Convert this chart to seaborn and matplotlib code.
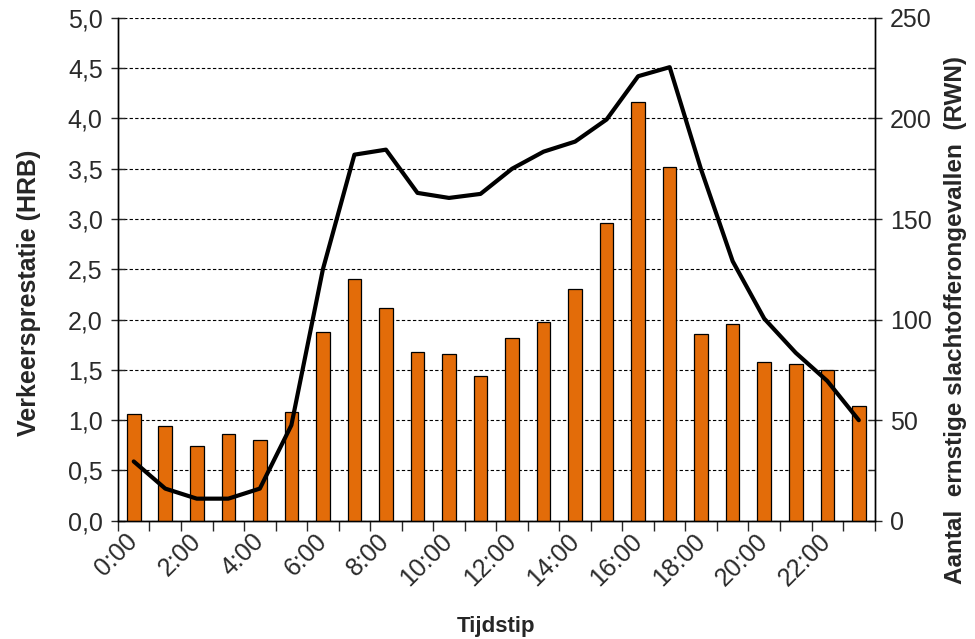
import numpy as np
import pandas as pd
import matplotlib.pyplot as plt
import seaborn as sns
from matplotlib.ticker import MultipleLocator, FuncFormatter

uren = list(range(24))
labels = ["%d:00" % h for h in uren]
# ernstige slachtofferongevallen (RWN), rechter as
ongevallen = [53, 47, 37, 43, 40, 54, 94, 120, 106, 84, 83, 72,
              91, 99, 115, 148, 208, 176, 93, 98, 79, 78, 75, 57]
# verkeersprestatie (HRB), linker as
prestatie = [0.59, 0.32, 0.22, 0.22, 0.32, 0.95, 2.50, 3.64, 3.69, 3.26, 3.21, 3.25,
             3.50, 3.67, 3.77, 3.99, 4.42, 4.51, 3.49, 2.58, 2.01, 1.67, 1.39, 1.00]

df = pd.DataFrame({"uur": uren, "ongevallen": ongevallen, "prestatie": prestatie})

sns.set_style("white")
plt.rcParams["font.family"] = ["Liberation Sans", "DejaVu Sans"]

fig = plt.figure(figsize=(9.75, 6.39), dpi=100)
ax = fig.add_axes([0.121, 0.185, 0.776, 0.787])
ax2 = ax.twinx()

sns.barplot(x="uur", y="ongevallen", data=df, ax=ax2, color="#E36C09",
            edgecolor="black", linewidth=0.9, width=0.43, saturation=1,
            native_scale=True, zorder=3)
sns.lineplot(x="uur", y="prestatie", data=df, ax=ax, color="black", linewidth=3)

ax.set_zorder(ax2.get_zorder() + 1)
ax.patch.set_visible(False)

ax.set_xlim(-0.5, 23.5)
ax.set_ylim(0, 5)
ax2.set_ylim(0, 250)

tc = "#2a2a2a"
ax.yaxis.set_major_locator(MultipleLocator(0.5))
ax.yaxis.set_major_formatter(FuncFormatter(lambda v, p: ("%.1f" % v).replace(".", ",")))
ax.tick_params(axis="y", direction="inout", length=10, width=1, labelsize=18,
               labelcolor=tc, pad=6, left=True)
ax2.yaxis.set_major_locator(MultipleLocator(50))
ax2.yaxis.set_minor_locator(MultipleLocator(25))
ax2.tick_params(axis="y", which="major", direction="inout", length=10, width=1,
                labelsize=18, labelcolor=tc, pad=6, right=True)
ax2.tick_params(axis="y", which="minor", direction="in", length=5, width=1, right=True)
ax2.yaxis.grid(True, which="both", color="black", linestyle=(0, (3, 2)), linewidth=0.8)
ax2.set_axisbelow(True)

ax.set_xticks(range(0, 24, 2))
ax.set_xticklabels(labels[::2])
ax.set_xticks(np.arange(-0.5, 24, 1), minor=True)
ax.tick_params(axis="x", which="major", length=0, labelsize=18, labelcolor=tc, pad=12)
ax.tick_params(axis="x", which="minor", direction="out", length=7, width=1, bottom=True)
for t in ax.get_xticklabels():
    t.set_rotation(45)
    t.set_rotation_mode("anchor")
    t.set_ha("right")
    t.set_va("center")

for a in (ax, ax2):
    a.spines["top"].set_visible(False)
    for s in ("left", "right", "bottom"):
        a.spines[s].set_color("black")
        a.spines[s].set_linewidth(1)

ax.set_xlabel("Tijdstip", fontsize=16, fontweight="bold")
ax.xaxis.set_label_coords(0.5, -0.189)
ax.set_ylabel("Verkeersprestatie (HRB)", fontsize=18, fontweight="bold")
ax.yaxis.set_label_coords(-0.102, 0.453)
ax2.set_ylabel("Aantal  ernstige slachtofferongevallen  (RWN)", fontsize=17.5,
               fontweight="bold")
ax2.yaxis.set_label_coords(1.092, 0.40)

plt.savefig("out.png", dpi=100)
